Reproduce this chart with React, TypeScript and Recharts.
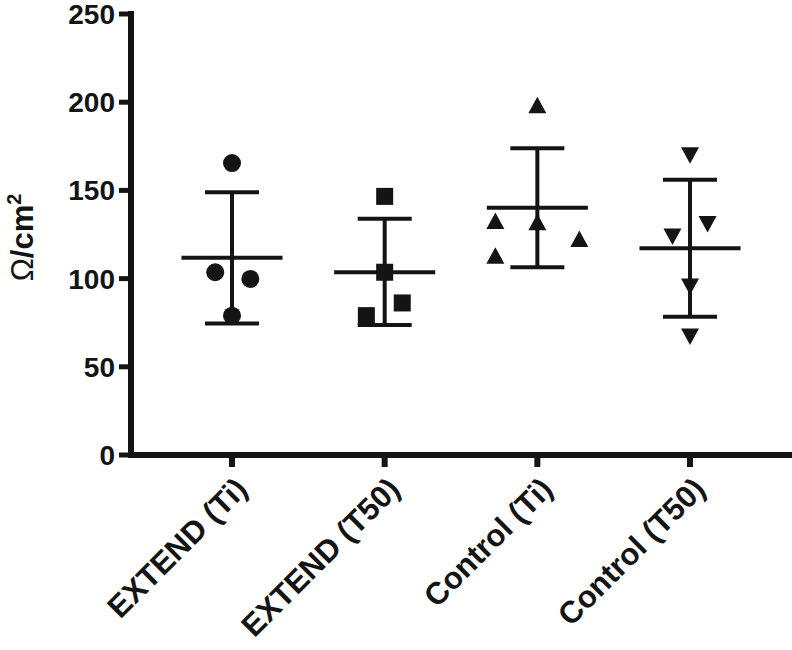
import React from 'react';
import { ComposedChart, Scatter, XAxis, YAxis, ErrorBar } from 'recharts';

const INK = '#141414';
const FONT = '"Liberation Sans", Arial, Helvetica, sans-serif';

const categories = ['EXTEND (Ti)', 'EXTEND (T50)', 'Control (Ti)', 'Control (T50)'];
const yTicks = [0, 50, 100, 150, 200, 250];

// individual measurements (Ω/cm²) and their horizontal jitter (in category units)
const extendTiValues = [165.5, 103.6, 99.8, 79.0];
const extendTiJitter = [0, -0.11, 0.12, 0];
const extendT50Values = [146.6, 103.6, 86.2, 79.0];
const extendT50Jitter = [0, 0, 0.115, -0.12];
const controlTiValues = [198.3, 132.6, 132.0, 122.5, 113.0];
const controlTiJitter = [0, -0.275, 0, 0.275, -0.275];
const controlT50Values = [169.9, 131.0, 123.9, 95.5, 67.2];
const controlT50Jitter = [0, 0.115, -0.115, 0, 0];

// mean and mean ± SD
const means = [111.8, 103.6, 140.2, 117.2];
const sdUpper = [149.0, 133.9, 173.9, 156.0];
const sdLower = [74.6, 73.7, 106.4, 78.4];
const meanHalfWidth = 0.331;

const toPoints = (group: number, values: number[], jitter: number[]) =>
  values.map((v, i) => ({ x: group + jitter[i], y: v }));

const extendTiData = toPoints(1, extendTiValues, extendTiJitter);
const extendT50Data = toPoints(2, extendT50Values, extendT50Jitter);
const controlTiData = toPoints(3, controlTiValues, controlTiJitter);
const controlT50Data = toPoints(4, controlT50Values, controlT50Jitter);

const meanData = categories.map((c, i) => ({
  x: i + 1,
  y: means[i],
  yErr: [means[i] - sdLower[i], sdUpper[i] - means[i]],
  xErr: meanHalfWidth,
}));

const CircleShape = (p: any) => <circle cx={p.cx} cy={p.cy} r={9} fill={INK} />;
const SquareShape = (p: any) => (
  <rect x={p.cx - 8.5} y={p.cy - 8.5} width={17} height={17} fill={INK} />
);
const TriUpShape = (p: any) => (
  <polygon
    points={`${p.cx},${p.cy - 8.5} ${p.cx + 9},${p.cy + 8} ${p.cx - 9},${p.cy + 8}`}
    fill={INK}
  />
);
const TriDownShape = (p: any) => (
  <polygon
    points={`${p.cx - 9},${p.cy - 8} ${p.cx + 9},${p.cy - 8} ${p.cx},${p.cy + 8.5}`}
    fill={INK}
  />
);
const NoShape = () => <g />;

const YTick = (p: any) => (
  <text
    x={p.x}
    y={p.y}
    dy="0.36em"
    textAnchor="end"
    fontFamily={FONT}
    fontWeight="bold"
    fontSize={28}
    fill={INK}
  >
    {p.payload.value}
  </text>
);

const XTick = (p: any) => {
  const label = categories[Math.round(p.payload.value) - 1] ?? '';
  const ax = p.x + 17;
  const ay = p.y + 24;
  return (
    <text
      x={ax}
      y={ay}
      transform={`rotate(-45, ${ax}, ${ay})`}
      textAnchor="end"
      fontFamily={FONT}
      fontWeight="bold"
      fontSize={31}
      fill={INK}
    >
      {label}
    </text>
  );
};

const YLabel = (p: any) => {
  const vb = p.viewBox || { x: 0, y: 14, width: 131, height: 441 };
  const cx = 22;
  const cy = vb.y + vb.height / 2 + 3;
  return (
    <text
      x={cx}
      y={cy}
      transform={`rotate(-90, ${cx}, ${cy})`}
      textAnchor="middle"
      dy="0.36em"
      fontFamily={FONT}
      fontWeight="bold"
      fontSize={31}
      fill={INK}
    >
      <tspan fontWeight="normal">Ω</tspan>
      <tspan>/cm</tspan>
      <tspan dy={-12} fontSize={20}>2</tspan>
    </text>
  );
};

export default function App() {
  return (
    <div style={{ position: 'absolute', left: 0, top: 0, width: 792, height: 650, background: '#fff' }}>
      <ComposedChart
        width={792}
        height={650}
        margin={{ top: 14, right: 0, bottom: 0, left: 0 }}
      >
        <XAxis
          type="number"
          dataKey="x"
          domain={[0.3384, 4.668]}
          allowDataOverflow
          ticks={[1, 2, 3, 4]}
          height={195}
          tickSize={12}
          tickMargin={0}
          axisLine={{ stroke: INK, strokeWidth: 6, strokeLinecap: 'square' }}
          tickLine={{ stroke: INK, strokeWidth: 6 }}
          tick={<XTick />}
          interval={0}
        />
        <YAxis
          type="number"
          dataKey="y"
          domain={[0, 250]}
          ticks={yTicks}
          width={131}
          tickSize={12}
          tickMargin={4}
          axisLine={{ stroke: INK, strokeWidth: 6, strokeLinecap: 'square' }}
          tickLine={{ stroke: INK, strokeWidth: 5 }}
          tick={<YTick />}
          interval={0}
          label={<YLabel />}
        />
        <Scatter data={meanData} shape={<NoShape />} isAnimationActive={false}>
          <ErrorBar dataKey="yErr" direction="y" width={27} stroke={INK} strokeWidth={4} />
          <ErrorBar dataKey="xErr" direction="x" width={0} stroke={INK} strokeWidth={4} />
        </Scatter>
        <Scatter data={extendTiData} shape={<CircleShape />} isAnimationActive={false} />
        <Scatter data={extendT50Data} shape={<SquareShape />} isAnimationActive={false} />
        <Scatter data={controlTiData} shape={<TriUpShape />} isAnimationActive={false} />
        <Scatter data={controlT50Data} shape={<TriDownShape />} isAnimationActive={false} />
      </ComposedChart>
    </div>
  );
}
